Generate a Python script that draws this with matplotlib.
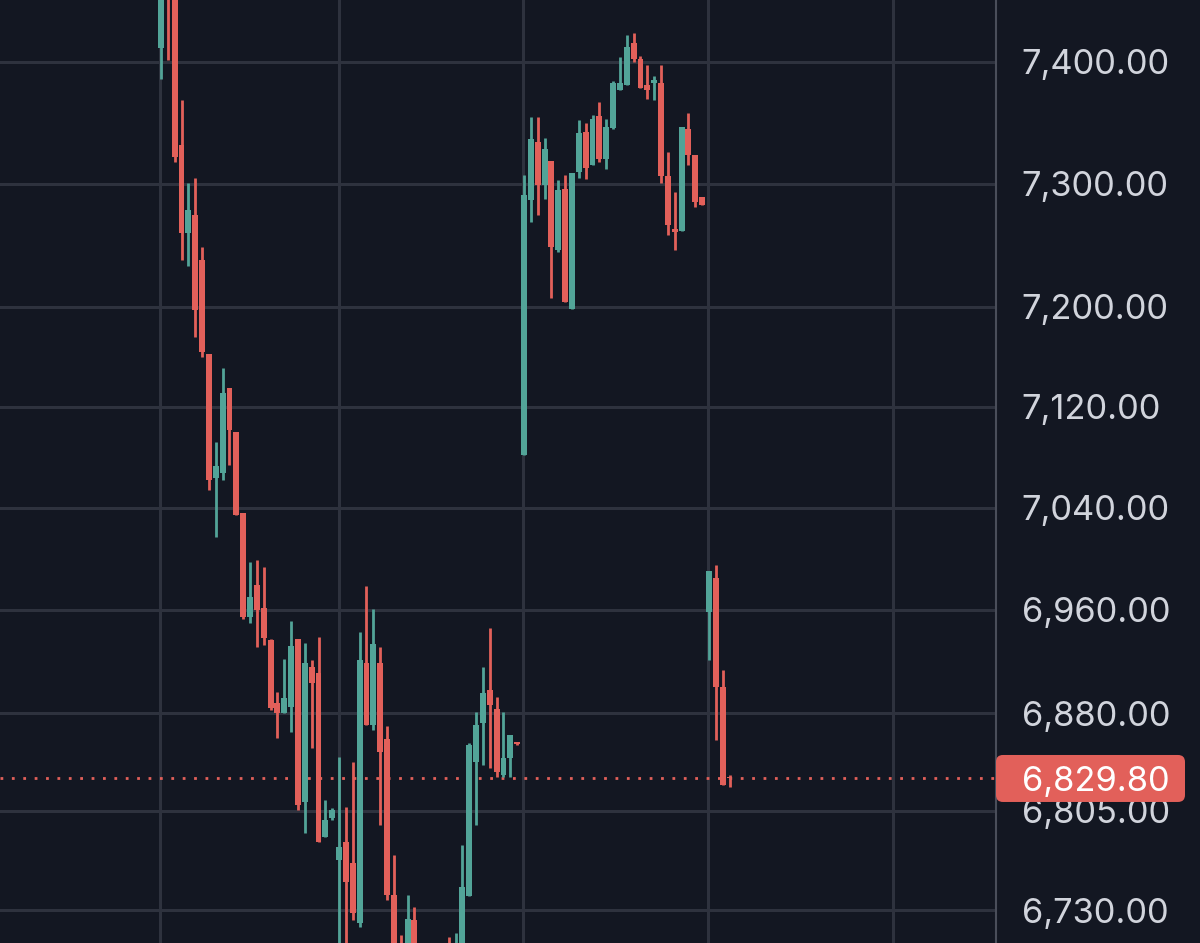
import matplotlib
matplotlib.use('Agg')
import matplotlib.pyplot as plt
from matplotlib.patches import FancyBboxPatch
from matplotlib.ticker import NullLocator, NullFormatter
import numpy as np

# OHLC per bar (left to right)
opens = [7411.7, 7470.0, 7458.0, 7331.6, 7259.7, 7274.2, 7237.8, 7162.1, 7063.4, 7067.3,
         7134.9, 7099.8, 7035.7, 6954.4, 6979.4, 6961.5, 6936.5, 6887.7, 6880.0, 6884.6,
         6937.3, 6811.8, 6915.6, 6911.0, 6785.3, 6799.6, 6767.8, 6781.5, 6765.6, 6720.2,
         6918.7, 6870.8, 6918.7, 6860.0, 6741.3, 6700.0, 6695.0, 6722.5, 6695.0, 6680.0,
         6672.0, 6690.0, 6700.0, 6688.0, 6695.0, 6740.5, 6842.4, 6872.3, 6897.7, 6883.0,
         6832.5, 6845.4, 6857.7,
         7081.6, 7286.5, 7334.1, 7298.8, 7318.5, 7245.9, 7295.5, 7198.1, 7309.5, 7342.3,
         7315.2, 7355.4, 7320.1, 7345.5, 7376.8, 7380.9, 7415.8, 7402.5, 7380.9, 7382.6,
         7382.6, 7306.2, 7262.9, 7261.3, 7344.7, 7323.4, 7289.0,
         6958.3, 6984.8, 6900.0, 6831.0]
highs = [7468.0, 7475.0, 7462.0, 7368.5, 7300.4, 7304.5, 7248.3, 7162.1, 7091.9, 7151.0,
         7134.9, 7099.8, 7035.7, 6997.3, 6998.9, 6993.4, 6937.0, 6896.2, 6921.8, 6951.3,
         6937.3, 6934.2, 6921.0, 6938.8, 6813.3, 6807.0, 6846.2, 6808.0, 6842.4, 6942.7,
         6978.5, 6960.7, 6931.0, 6870.0, 6771.6, 6711.3, 6741.3, 6732.3, 6702.0, 6690.0,
         6695.0, 6700.0, 6709.8, 6712.8, 6779.2, 6857.0, 6880.8, 6915.6, 6945.9, 6892.3,
         6880.8, 6863.1, 6858.0,
         7307.0, 7354.5, 7354.5, 7337.3, 7318.5, 7302.9, 7307.0, 7308.7, 7352.1, 7349.6,
         7356.2, 7366.9, 7352.9, 7384.0, 7404.1, 7422.4, 7424.1, 7405.0, 7397.3, 7388.4,
         7397.3, 7325.9, 7293.1, 7346.3, 7357.8, 7323.4, 7289.0,
         6990.3, 6995.0, 6913.3, 6832.5]
lows = [7386.0, 7401.7, 7317.6, 7237.8, 7232.9, 7175.7, 7159.7, 7053.9, 7017.0, 7061.8,
        7073.7, 7034.2, 6953.0, 6949.8, 6931.0, 6932.6, 6882.3, 6860.7, 6880.0, 6865.4,
        6805.7, 6788.2, 6853.1, 6781.5, 6785.3, 6798.0, 6700.0, 6700.0, 6722.5, 6717.2,
        6870.8, 6866.9, 6794.3, 6737.5, 6690.0, 6685.0, 6690.0, 6690.0, 6670.0, 6660.0,
        6665.0, 6675.0, 6682.0, 6684.0, 6690.0, 6740.5, 6794.3, 6840.1, 6837.8, 6830.9,
        6830.9, 6830.9, 6855.6,
        7081.6, 7268.6, 7274.2, 7287.3, 7207.0, 7244.3, 7203.8, 7198.1, 7304.5, 7303.7,
        7315.2, 7317.6, 7311.9, 7345.0, 7376.8, 7380.9, 7400.0, 7378.5, 7369.3, 7368.5,
        7300.4, 7258.1, 7245.9, 7261.3, 7315.2, 7280.8, 7282.4,
        6921.0, 6859.2, 6824.8, 6823.0]
closes = [7462.0, 7455.0, 7321.8, 7259.7, 7278.3, 7197.3, 7163.7, 7061.8, 7072.9, 7130.9,
          7101.4, 7034.2, 6954.4, 6969.9, 6959.9, 6938.1, 6883.8, 6880.0, 6891.5, 6931.8,
          6809.5, 6918.7, 6903.3, 6781.5, 6798.1, 6805.7, 6777.7, 6751.2, 6727.7, 6921.0,
          6870.8, 6933.4, 6850.1, 6741.3, 6695.0, 6690.0, 6723.2, 6695.0, 6680.0, 6672.0,
          6690.0, 6685.0, 6690.0, 6700.0, 6747.4, 6855.4, 6870.8, 6895.4, 6886.1, 6834.8,
          6845.4, 6863.1, 6856.1,
          7290.6, 7336.5, 7298.8, 7328.3, 7248.3, 7294.7, 7203.8, 7308.7, 7341.4, 7312.8,
          7352.9, 7320.1, 7346.3, 7382.6, 7382.6, 7412.5, 7402.5, 7378.5, 7376.8, 7385.1,
          7306.2, 7266.1, 7260.5, 7346.3, 7323.4, 7284.9, 7282.4,
          6990.3, 6900.0, 6824.8, 6829.8]

price_ticks = [7400, 7300, 7200, 7120, 7040, 6960, 6880, 6805, 6730]
last_price = 6829.80

BG = '#131722'
GRID = '#2e323e'
GREEN = '#52a498'
RED = '#e2605a'
TEXT = '#d1d4dc'

W, H = 1200, 943
fig = plt.figure(figsize=(W / 100, H / 100), dpi=100)
fig.patch.set_facecolor(BG)
plt.rcParams['font.family'] = ['Inter', 'DejaVu Sans']

ax = fig.add_axes([0, 0, 996 / W, 1])
ax.set_facecolor(BG)
ax.set_yscale('log')
ax.set_ylim(6705.2, 7451.5)
ax.set_xlim(-23.5, 121.9)

o = np.array(opens)
h = np.array(highs)
l = np.array(lows)
c = np.array(closes)
x = np.arange(len(o))
cols = np.where(c >= o, GREEN, RED)

ax.vlines(x, l, h, colors=cols, linewidth=2.0, zorder=3)
ax.bar(x, np.maximum(np.abs(c - o), 1.5), bottom=np.minimum(o, c), width=0.86,
       color=cols, linewidth=0, zorder=4)

# grid
ax.set_yticks(price_ticks)
ax.set_yticklabels([f'{t:,.2f}' for t in price_ticks])
ax.yaxis.set_minor_locator(NullLocator())
ax.yaxis.set_minor_formatter(NullFormatter())
ax.set_xticks([-0.15, 26.0, 52.85, 79.85, 106.85])
ax.grid(True, color=GRID, linewidth=2.2, zorder=0)
ax.set_axisbelow(True)
ax.yaxis.tick_right()
ax.tick_params(axis='y', length=0, pad=18.5, labelsize=24.8, labelcolor=TEXT)
ax.tick_params(axis='x', length=0, labelbottom=False)
for s in ['top', 'left', 'bottom']:
    ax.spines[s].set_visible(False)
ax.spines['right'].set_color('#4a4e5a')
ax.spines['right'].set_linewidth(1.5)

# last price line + label
ax.axhline(last_price, color=RED, linewidth=2.0, linestyle=(0, (1, 3.1)), zorder=2)
yp = ax.transData.transform((0, last_price))[1]
box = FancyBboxPatch((996 / W, (yp - 23.5) / H), 189 / W, 47 / H,
                     boxstyle='round,pad=0,rounding_size=0.0058', mutation_aspect=W / H,
                     transform=fig.transFigure, facecolor=RED, edgecolor='none')
fig.patches.append(box)
fig.text(1022 / W, yp / H, f'{last_price:,.2f}', color='white', fontsize=24.8,
         ha='left', va='center_baseline')

fig.savefig('out.png', dpi=100, facecolor=BG)
